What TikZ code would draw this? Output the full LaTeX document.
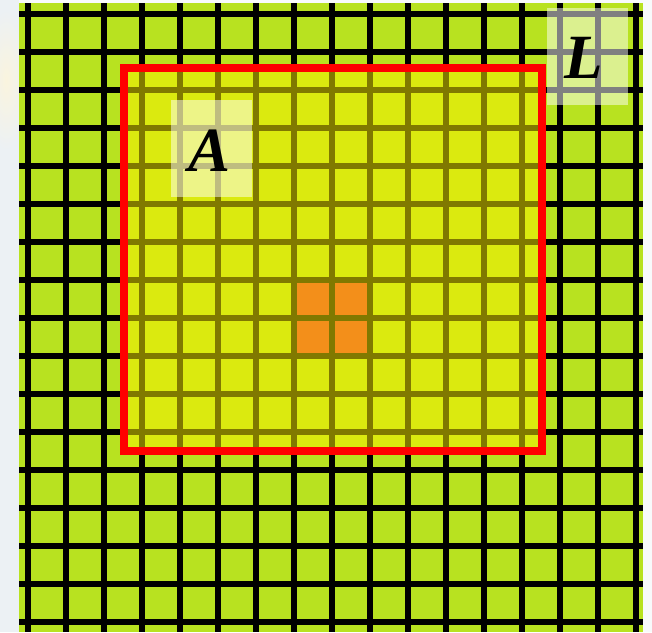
\documentclass[tikz,border=0pt]{standalone}
\usepackage{fontspec}
\setmainfont{Liberation Serif}
\definecolor{bgleft}{RGB}{236,241,244}
\definecolor{bgright}{RGB}{248,250,251}
\definecolor{glow}{RGB}{250,244,222}
\definecolor{cellgreen}{RGB}{184,226,32}
\definecolor{cellorange}{RGB}{243,143,26}
\definecolor{frame}{RGB}{255,0,0}
\tikzset{
  gridline/.style={line width=6pt, black},
  labelbox/.style={fill=white, fill opacity=0.5},
  biglabel/.style={font=\fontsize{63}{63}\selectfont\bfseries\itshape, inner sep=0pt, anchor=base, text opacity=1},
  orangecell/.style={fill=cellorange},
  redframe/.style={draw=frame, line width=8pt}
}
\begin{document}
\begin{tikzpicture}[x=1pt, y=-1pt]
\useasboundingbox (0,0) rectangle (652,632);
% background
\fill[bgleft] (0,0) rectangle (19,632);
\fill[bgright] (19,0) rectangle (652,632);
\begin{scope}
  \clip (0,0) rectangle (19,632);
  \shade[inner color=glow, outer color=bgleft] (6,80) ellipse [x radius=22, y radius=70];
\end{scope}
% grid
\begin{scope}
  \clip (19,3) rectangle (643,632);
  \fill[cellgreen] (19,3) rectangle (643,632);
  \foreach \k in {0,...,16} {
    \draw[gridline] (28+38*\k,3) -- (28+38*\k,632);
    \draw[gridline] (19,13.5+38*\k) -- (643,13.5+38*\k);
  }
\end{scope}
% yellow overlay
\fill[yellow, opacity=0.5] (124,68) rectangle (542,451);
% orange cells
\fill[orangecell] (297,283) rectangle (329,315);
\fill[orangecell] (335,283) rectangle (367,315);
\fill[orangecell] (297,321) rectangle (329,353);
\fill[orangecell] (335,321) rectangle (367,353);
% red frame
\draw[redframe] (124,68) rectangle (542,451);
% labels
\fill[labelbox] (547,8) rectangle (628,105);
\fill[labelbox] (171,100) rectangle (252,197);
\node[biglabel] (L) at (584,78) {L};
\node[biglabel] (A) at (210,171) {A};
\end{tikzpicture}
\end{document}
